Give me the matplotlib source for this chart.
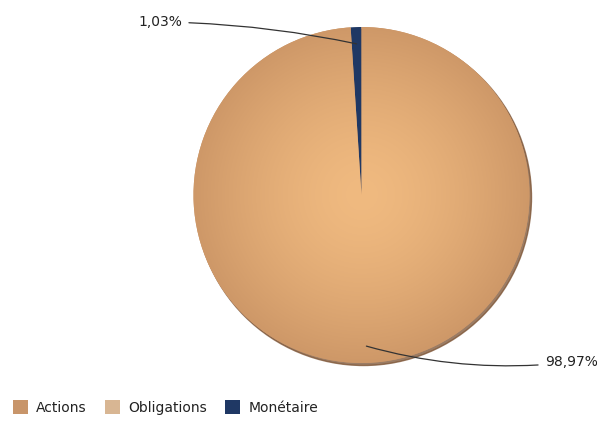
import matplotlib
matplotlib.use('Agg')
import matplotlib.pyplot as plt
import numpy as np
from matplotlib.patches import Patch

# --- data ---
categories = ['Actions', 'Obligations', 'Monétaire']
values = [98.97, 0.0, 1.03]
labels = ['98,97%', '', '1,03%']
colors = ['#C8956A', '#D8B693', '#1F3864']

W, H = 597, 422
fig = plt.figure(figsize=(W / 100, H / 100), dpi=100)
ax = fig.add_axes([0, 0, 1, 1])

# coordonnees en pixels, y vers le haut
cx, cy, R = 361.5, H - 195, 168

# ombre legere en bas a droite
shadow = plt.Circle((cx + 2, cy - 2.5), R, color='#7a5030', alpha=0.75, zorder=1)
ax.add_patch(shadow)

wedges, _ = ax.pie(values, colors=colors, startangle=90, counterclock=False,
                   center=(cx, cy), radius=R, frame=True,
                   wedgeprops=dict(linewidth=0, zorder=2))

# degrade radial sur la part Actions
yy, xx = np.mgrid[0:H, 0:W]
rr = np.clip(np.hypot(xx - cx, yy - cy) / R, 0, 1)
c_in = np.array([240, 186, 128]) / 255
c_out = np.array([206, 152, 104]) / 255
t = rr[..., None] ** 1.5
img = c_in[None, None, :] * (1 - t) + c_out[None, None, :] * t
im = ax.imshow(img, extent=(0, W, 0, H), origin='lower', zorder=3,
               interpolation='bilinear')
im.set_clip_path(wedges[0])

ax.set_xlim(0, W)
ax.set_ylim(0, H)
ax.set_aspect('equal')
ax.axis('off')

# etiquettes avec lignes de rappel
for w, lab in zip(wedges, labels):
    if not lab:
        continue
    ang = np.deg2rad((w.theta1 + w.theta2) / 2)
    px = cx + 0.9 * R * np.cos(ang)
    py = cy + 0.9 * R * np.sin(ang)
    if np.sin(ang) > 0:
        tx, ty, ha, rad = 182, H - 22, 'right', -0.05
    else:
        tx, ty, ha, rad = 545, H - 362, 'left', -0.1
    ax.annotate(lab, xy=(px, py), xytext=(tx, ty), ha=ha, va='center',
                fontsize=10, color='#222222', zorder=5,
                arrowprops=dict(arrowstyle='-', color='#333333', lw=0.9,
                                shrinkA=3, shrinkB=0,
                                connectionstyle='arc3,rad=%s' % rad))

handles = [Patch(facecolor=c, edgecolor='none') for c in colors]
fig.legend(handles, categories, loc='lower left', bbox_to_anchor=(0.0, -0.012),
           ncol=3, frameon=False, fontsize=10, handlelength=1.1, handleheight=1.1,
           handletextpad=0.6, columnspacing=1.3, labelcolor='#222222')

fig.savefig('out.png', dpi=100)
